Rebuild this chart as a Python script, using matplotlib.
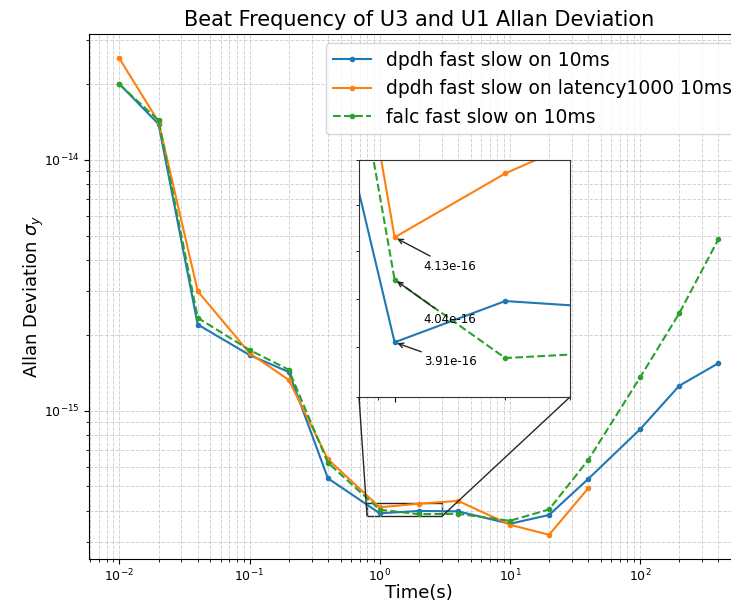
import numpy as np
import matplotlib
matplotlib.use("Agg")
import matplotlib.pyplot as plt
from mpl_toolkits.axes_grid1.inset_locator import mark_inset

# ---- data ----
tau = [0.01, 0.02, 0.04, 0.1, 0.2, 0.4, 1, 2, 4, 10, 20, 40, 100, 200, 400]
dpdh_10ms = [2.01e-14, 1.39e-14, 2.21e-15, 1.67e-15, 1.43e-15, 5.39e-16, 3.91e-16,
             3.995e-16, 3.98e-16, 3.55e-16, 3.85e-16, 5.36e-16, 8.45e-16, 1.26e-15, 1.55e-15]
tau_lat = [0.01, 0.02, 0.04, 0.1, 0.2, 0.4, 1, 2, 4, 10, 20, 40]
dpdh_lat1000 = [2.54e-14, 1.42e-14, 3.0e-15, 1.70e-15, 1.33e-15, 6.42e-16, 4.13e-16,
                4.27e-16, 4.38e-16, 3.52e-16, 3.21e-16, 4.92e-16]
falc_10ms = [2.0e-14, 1.44e-14, 2.35e-15, 1.75e-15, 1.46e-15, 6.22e-16, 4.04e-16,
             3.878e-16, 3.89e-16, 3.65e-16, 4.05e-16, 6.38e-16, 1.36e-15, 2.45e-15, 4.84e-15]
labels = ["dpdh fast slow on 10ms", "dpdh fast slow on latency1000 10ms", "falc fast slow on 10ms"]
title = "Beat Frequency of U3 and U1 Allan Deviation"

# annotated minima at tau = 1 s
annot_vals = [4.13e-16, 4.04e-16, 3.91e-16]
annot_text_y = [4.06e-16, 3.95e-16, 3.863e-16]

W, H = 731, 601
fig = plt.figure(figsize=(W / 100, H / 100), dpi=100)
L, R, T, B = 89.4, 748.4, 34, 559
ax = fig.add_axes([L / W, 1 - B / H, (R - L) / W, (B - T) / H])

blue, orange, green = "#1f77b4", "#ff7f0e", "#2ca02c"
style = dict(marker=".", markersize=6, linewidth=1.5)

def draw(a):
    a.plot(tau, dpdh_10ms, color=blue, label=labels[0], **style)
    a.plot(tau_lat, dpdh_lat1000, color=orange, label=labels[1], **style)
    a.plot(tau, falc_10ms, color=green, linestyle="--", label=labels[2], **style)

draw(ax)
ax.set_xscale("log")
ax.set_yscale("log")
ax.set_xlim(10 ** -2.23, 10 ** 2.832)
ax.set_ylim(10 ** -15.590, 10 ** -13.498)
ax.grid(True, which="both", linestyle="--", color="#c8c8c8", linewidth=0.7, alpha=0.8)
ax.tick_params(labelsize=9)
ax.tick_params(axis="x", pad=2.5)
ax.set_xlabel("Time(s)", fontsize=13, labelpad=0)
ax.set_ylabel(r"Allan Deviation $\sigma_y$", fontsize=13, labelpad=-1.5)
ax.set_title(title, fontsize=15)
ax.legend(loc="upper right", fontsize=13.5)

# inset
iL, iR, iT, iB = 359, 570, 160, 397
axins = fig.add_axes([iL / W, 1 - iB / H, (iR - iL) / W, (iB - iT) / H])
draw(axins)
axins.set_xscale("log")
axins.set_yscale("log")
axins.set_xlim(0.8, 3.0)
axins.set_ylim(3.80e-16, 4.30e-16)
axins.tick_params(which="both", labelbottom=False, labelleft=False)
for s in axins.spines.values():
    s.set_edgecolor("0.2")

for v, ty in zip(annot_vals, annot_text_y):
    axins.annotate(f"{v:.2e}", xy=(1, v), xytext=(1.2, ty), fontsize=8.5,
                   arrowprops=dict(arrowstyle="->", color="0.15", lw=1.0))

mark_inset(ax, axins, loc1=3, loc2=4, fc="none", ec="0.15", lw=1.0)

fig.savefig("out.png", dpi=100)
